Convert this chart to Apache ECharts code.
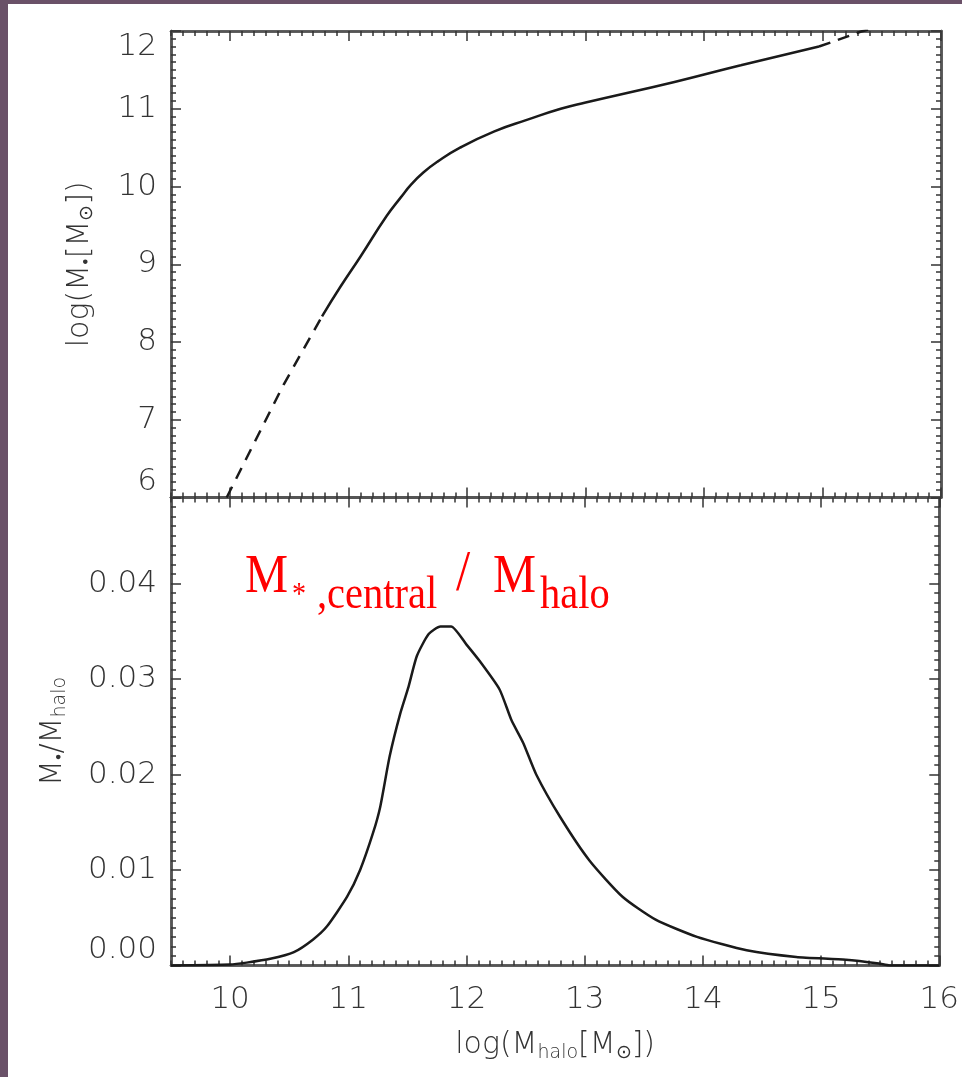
<!DOCTYPE html>
<html><head><meta charset="utf-8">
<script src="https://cdn.jsdelivr.net/npm/echarts@6/dist/echarts.min.js"></script>
<style>
html,body{margin:0;padding:0;background:#6a5168;width:962px;height:1077px;overflow:hidden}
#c{position:absolute;left:8px;top:4px;width:954px;height:1073px;background:#fff}
</style></head><body><div id="c"></div>
<script>
// ---- axes ----
const xMin = 9.5, xMax = 16;
const xMajorTicks = [10, 11, 12, 13, 14, 15, 16];
const topYMin = 6, topYMax = 12;
const topYMajorTicks = [6, 7, 8, 9, 10, 11, 12];
const botYMin = 0, botYMax = 0.049;
const botYMajorTicks = [0, 0.01, 0.02, 0.03, 0.04];

// ---- top panel: log(M*) vs log(Mhalo) ----
const lowDashX = [9.97, 10.45, 10.775];
const lowDashY = [6.0, 7.45, 8.33];
const solidX = [10.775, 10.93, 11.10, 11.32, 11.44, 11.53, 11.63, 11.75, 11.94, 12.23, 12.51, 12.79, 13.0, 13.75, 14.31, 14.97];
const solidY = [8.33, 8.71, 9.10, 9.62, 9.86, 10.03, 10.18, 10.32, 10.50, 10.71, 10.86, 11.00, 11.08, 11.345, 11.56, 11.80];
const highDashX = [14.97, 15.12, 15.32, 15.5];
const highDashY = [11.80, 11.88, 11.99, 12.07];

// ---- bottom panel: M*/Mhalo vs log(Mhalo) ----
const ratioX = [9.5, 10.0, 10.14, 10.34, 10.54, 10.70, 10.82, 10.99, 11.10, 11.21, 11.27, 11.35, 11.44, 11.51, 11.58, 11.68, 11.78, 11.87, 12.00, 12.11, 12.28, 12.38, 12.48, 12.59, 12.79, 13.04, 13.32, 13.60, 13.95, 14.37, 14.79, 15.21, 15.49, 15.58, 16.0];
const ratioY = [0.0, 0.0001, 0.0003, 0.0007, 0.0014, 0.0027, 0.0041, 0.0072, 0.0100, 0.0139, 0.0166, 0.0219, 0.0264, 0.0292, 0.0324, 0.0347, 0.0355, 0.0355, 0.0336, 0.0319, 0.0289, 0.0257, 0.0233, 0.0200, 0.0156, 0.0110, 0.0072, 0.0048, 0.0030, 0.0016, 0.0009, 0.0006, 0.0002, 0.0, 0.0];

function zip(a, b) { return a.map((v, i) => [v, b[i]]); }
function minorTicks(lo, hi, step) {
  const out = []; const n = Math.round((hi - lo) / step);
  for (let i = 0; i <= n; i++) out.push(+(lo + i * step).toFixed(6));
  return out;
}
const xMinor = minorTicks(xMin, xMax, 0.1);
const topYMinor = minorTicks(topYMin, topYMax, 0.1);
const botYMinor = minorTicks(botYMin, botYMax, 0.001);

const FONT = 'DejaVu Sans';
const lineCol = '#555';
const tickCol = '#333';
const labelStyle = { fontFamily: FONT, fontSize: 31, color: '#333', fontWeight: 200 };
const richName = {
  n: { fontFamily: FONT, fontSize: 30, color: '#333', fontWeight: 200, lineHeight: 34 },
  s: { fontFamily: FONT, fontSize: 19, color: '#333', fontWeight: 200, lineHeight: 19, verticalAlign: 'bottom' }
};

function mkAxis(gridIndex, position, min, max, ticks, len, label, extra) {
  return Object.assign({
    type: 'value', gridIndex, position, min, max,
    axisLine: { show: true, onZero: false, lineStyle: { color: lineCol, width: 2.5 } },
    axisTick: { show: true, inside: true, length: len, customValues: ticks, lineStyle: { color: tickCol, width: 1.5 } },
    axisLabel: label ? Object.assign({ show: true, customValues: ticks }, labelStyle, label) : { show: false },
    splitLine: { show: false },
    minorTick: { show: false }
  }, extra || {});
}

const xAxes = [], yAxes = [];
for (let g = 0; g < 2; g++) {
  const isBottom = g === 1;
  const xl = isBottom ? { margin: 19 } : null;
  const xname = isBottom ? {
    name: '{n|log(M}{s|halo}{n|[M}{s|⊙}{n|])}', nameLocation: 'middle', nameGap: 63,
    nameTextStyle: { rich: richName }
  } : {};
  xAxes.push(mkAxis(g, 'bottom', xMin, xMax, xMajorTicks, 10, xl, xname));
  xAxes.push(mkAxis(g, 'bottom', xMin, xMax, xMinor, 5, null));
  xAxes.push(mkAxis(g, 'top', xMin, xMax, xMajorTicks, 10, null));
  xAxes.push(mkAxis(g, 'top', xMin, xMax, xMinor, 5, null));

  const yMin = isBottom ? botYMin : topYMin, yMax = isBottom ? botYMax : topYMax;
  const yMaj = isBottom ? botYMajorTicks : topYMajorTicks;
  const yMinr = isBottom ? botYMinor : topYMinor;
  const yl = isBottom
    ? { margin: 14, formatter: v => v.toFixed(2), verticalAlignMinLabel: 'bottom' }
    : { margin: 14, formatter: v => String(v), verticalAlignMinLabel: 'bottom', verticalAlignMaxLabel: 'top' };
  const yname = isBottom
    ? { name: '{n|M}{s|•}{n|/M}{s|halo}', nameLocation: 'middle', nameGap: 101, nameRotate: 90, nameTextStyle: { rich: richName } }
    : { name: '{n|log(M}{s|•}{n|[M}{s|⊙}{n|])}', nameLocation: 'middle', nameGap: 74, nameRotate: 90, nameTextStyle: { rich: richName } };
  yAxes.push(mkAxis(g, 'left', yMin, yMax, yMaj, 10, yl, yname));
  yAxes.push(mkAxis(g, 'left', yMin, yMax, yMinr, 5, null));
  yAxes.push(mkAxis(g, 'right', yMin, yMax, yMaj, 10, null));
  yAxes.push(mkAxis(g, 'right', yMin, yMax, yMinr, 5, null));
}

const curve = { color: '#1a1a1a', width: 2.5 };
const red = '#ff0000';
const serif = 'Liberation Serif';
function redText(x, y, text, size) {
  return { type: 'text', x, y, scaleX: 0.88, style: { x: 0, y: 0, text, fill: red, font: size + 'px "' + serif + '"', verticalAlign: 'middle', align: 'left' } };
}

const chart = echarts.init(document.getElementById('c'), null, { renderer: 'canvas' });
chart.setOption({
  animation: false,
  backgroundColor: '#fff',
  grid: [
    { left: 163, top: 27, width: 770, height: 466.5 },
    { left: 163, top: 493.5, width: 770, height: 468 }
  ],
  xAxis: xAxes,
  yAxis: yAxes,
  series: [
    { type: 'line', xAxisIndex: 0, yAxisIndex: 0, data: zip(lowDashX, lowDashY), showSymbol: false, symbol: 'none', lineStyle: Object.assign({ type: [12, 9] }, curve) },
    { type: 'line', xAxisIndex: 0, yAxisIndex: 0, data: zip(solidX, solidY), showSymbol: false, symbol: 'none', smooth: 0.5, lineStyle: curve },
    { type: 'line', xAxisIndex: 0, yAxisIndex: 0, data: zip(highDashX, highDashY), showSymbol: false, symbol: 'none', lineStyle: Object.assign({ type: [12, 8] }, curve) },
    { type: 'line', xAxisIndex: 4, yAxisIndex: 4, data: zip(ratioX, ratioY), showSymbol: false, symbol: 'none', smooth: 0.2, lineStyle: curve }
  ],
  graphic: [
    redText(237, 574, 'M', 55),
    redText(284, 592, '*', 32),
    redText(309, 592, ',central', 46),
    redText(448, 571, '/', 58),
    redText(485, 574, 'M', 55),
    redText(532, 592, 'halo', 46)
  ]
});
</script></body></html>
